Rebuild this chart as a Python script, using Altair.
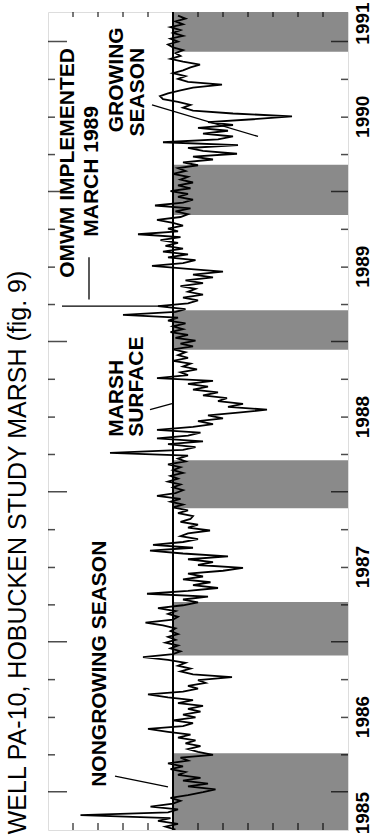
import altair as alt
import pandas as pd

# Weekly water level at well PA-10, feet relative to the marsh surface
# (positive = water above the surface). One row per quarter year.
first_reading = "1985-10-01"
level_ft = [
    -0.05, 0.15, -0.1, 0.3, 0.05, 1.85, 0.1, -0.1, 0.45, 0.0, -0.15, 0.05, -0.3,
    -0.6, -0.85, -0.3, -0.7, -0.2, -0.55, -0.1, -0.25, 0.05, -0.2, 0.1, -0.3, -0.15,
    -0.8, -0.5, -0.3, -0.55, -0.25, -0.45, -0.1, -0.35, 0.1, 0.5, -0.2, -0.4, 0.0,
    -0.45, -0.2, -0.55, -0.3, -0.6, -0.1, -0.4, 0.1, 0.5, -0.2, -0.5, -0.3, -0.65,
    -0.5, -1.18, -0.4, -0.15, -0.35, -0.1, -0.25, 0.1, 0.6, 0.0, -0.15, 0.05, -0.1,
    0.15, -0.05, 0.1, -0.1, 0.05, -0.05, 0.2, 0.55, 0.0, -0.1, 0.1, -0.05, 0.3,
    -0.2, -0.5, -0.2, -0.7, 0.52, -0.3, -0.9, -0.4, -0.75, -0.2, -0.6, -0.3, -1.0,
    -1.4, -0.5, -0.8, -0.3, -1.1, -0.2, 0.46, -0.4, 0.4, -0.2, -0.5, -0.15, -0.3,
    -0.74, -0.3, -0.5, -0.15, -0.35, -0.4, -0.1, -0.3, 0.0, -0.2, 0.05, -0.15, 0.32,
    -0.05, -0.2, 0.0, -0.15, 0.1, -0.1, 0.05, -0.2, 0.0, -0.15, 0.1, -0.25, -0.1,
    -0.3, 1.26, -0.2, -0.45, 0.1, -0.6, 0.32, -0.3, -0.55, 0.32, -0.4, -0.8, -0.5,
    -1.0, -0.7, -1.3, -1.88, -1.1, -1.4, -0.9, -1.08, -0.6, -0.9, -0.4, -0.7, -0.3,
    -0.8, 0.32, -0.3, -0.15, -0.48, -0.2, -0.35, 0.0, -0.3, -0.1, -0.25, 0.0, -0.4,
    -0.15, -0.45, -0.05, -0.3, 0.05, -0.2, 0.0, -0.25, 0.1, -0.1, 1.0, -0.05, -0.25,
    0.3, -0.3, -0.5, -0.2, -0.6, -0.3, -0.45, -0.15, -0.6, -0.25, -0.8, -0.4, -1.0,
    -0.3, 0.42, -0.2, -0.45, 0.1, -0.3, 0.2, -0.2, 0.15, -0.1, 0.25, -0.15, 0.7,
    -0.1, 0.1, -0.2, 0.0, 0.32, -0.15, -0.3, -0.05, -0.35, 0.36, -0.2, -0.4, -0.1,
    -0.3, 0.05, -0.35, -0.1, -0.4, -0.15, -0.3, 0.0, -0.25, -0.1, -0.5, -0.2, -0.8,
    -0.4, -1.28, -0.6, -0.3, -1.3, 0.2, -0.9, -1.2, -0.6, -1.1, -0.5, -1.2, -0.7,
    -1.6, -2.38, -1.2, -0.4, -0.2, -0.35, -0.1, 0.2, 0.26, 0.1, -0.15, -0.4, -0.98,
    -0.3, -0.1, -0.25, 0.0, -0.2, -0.35, -0.54, -0.2, 0.05, -0.15, -0.05, -0.2, 0.0,
    0.1, -0.1, 0.05, -0.2, 0.0, -0.15, 0.05, -0.2, -0.05, -0.25, -0.1,
]

# Nongrowing seasons (shaded below the marsh surface)
nongrowing_start = ["1985-09-30", "1986-11-29", "1987-11-22", "1988-12-12", "1989-11-05", "1990-12-07"]
nongrowing_end = ["1986-04-05", "1987-04-08", "1988-03-18", "1989-03-18", "1990-03-07", "1991-03-14"]

# Period shown and year labels along the time axis
period = ["1985-09-30", "1991-03-14"]
year_label_text = ["1985", "1986", "1987", "1988", "1989", "1990", "1991"]
year_label_date = ["1985-11-10", "1986-07-02", "1987-07-02", "1988-07-01",
                   "1989-07-02", "1990-07-02", "1991-02-14"]
level_ticks = [-3.0, -2.5, -2.0, -1.5, -1.0, -0.5, 0.5, 1.0, 1.5, 2.0]
level_range = [-3.5, 2.5]

# Text notes on the chart
note_text = ["NONGROWING SEASON", "MARSH", "SURFACE", "OMWM IMPLEMENTED",
             "MARCH  1989", "GROWING", "SEASON"]
note_date = ["1986-01-13", "1988-05-14", "1988-05-14", "1989-06-05",
             "1989-09-13", "1990-09-30", "1990-08-31"]
note_level = [1.46, 1.12, 0.72, 2.10, 1.62, 1.12, 0.70]
note_align = ["left", "left", "left", "left", "left", "center", "center"]

# Pointer lines for the notes
pointer_date = ["1986-02-08", "1988-07-19", "1989-03-28", "1989-04-13", "1990-07-31"]
pointer_date2 = ["1986-01-13", "1988-08-03", "1989-03-28", "1989-07-25", "1990-05-15"]
pointer_level = [1.16, 0.46, 2.22, 1.68, 0.42]
pointer_level2 = [0.10, 0.02, 0.10, 1.68, -1.70]

FONT = "Liberation Sans"

readings = pd.DataFrame({
    "date": pd.date_range(first_reading, periods=len(level_ft), freq="7D"),
    "level": level_ft,
})
readings["order"] = range(len(readings))

seasons = pd.DataFrame({"start": pd.to_datetime(nongrowing_start),
                        "end": pd.to_datetime(nongrowing_end)})

quarters = pd.DataFrame({"date": pd.date_range("1986-01-01", "1991-01-01", freq="QS")})
quarters["major"] = quarters["date"].dt.month == 1
minor_q = quarters[~quarters["major"]]
major_q = quarters[quarters["major"]]

edge_bottom = pd.DataFrame({"level": level_ticks, "date": pd.to_datetime(period[0])})
edge_top = pd.DataFrame({"level": level_ticks, "date": pd.to_datetime(period[1])})

years = pd.DataFrame({"text": year_label_text, "date": pd.to_datetime(year_label_date)})

notes = pd.DataFrame({"text": note_text, "date": pd.to_datetime(note_date),
                      "level": note_level, "align": note_align})
pointers = pd.DataFrame({"date": pd.to_datetime(pointer_date), "date2": pd.to_datetime(pointer_date2),
                         "level": pointer_level, "level2": pointer_level2})


def dt(s):
    t = pd.Timestamp(s)
    return alt.DateTime(year=t.year, month=t.month, date=t.day)


y_scale = alt.Scale(domain=[dt(period[0]), dt(period[1])], nice=False)
x_scale = alt.Scale(domain=level_range, reverse=True, nice=False, zero=False)

X = lambda f: alt.X(f, scale=x_scale, axis=None)
Y = lambda f: alt.Y(f, scale=y_scale, axis=None)

bands = alt.Chart(seasons).mark_rect(color="#8a8a8a", clip=True).encode(
    y=Y("start:T"), y2="end:T",
    x=alt.datum(0.0, scale=x_scale, axis=None), x2=alt.datum(level_range[0]),
)

surface = alt.Chart(seasons).mark_rule(color="black", strokeWidth=2).encode(
    x=alt.datum(0.0, scale=x_scale, axis=None),
)

trace = alt.Chart(readings).mark_line(color="black", strokeWidth=1.8, clip=True).encode(
    y=Y("date:T"),
    x=X("level:Q"),
    order="order:Q",
)


def side_ticks(df, edge, length):
    return alt.Chart(df).mark_tick(orient="horizontal", size=length, thickness=1.5,
                                   color="black", clip=True).encode(
        y=Y("date:T"), x=alt.datum(edge, scale=x_scale, axis=None))


def end_ticks(df, length):
    return alt.Chart(df).mark_tick(orient="vertical", size=length, thickness=1.5,
                                   color="black", clip=True).encode(
        y=Y("date:T"), x=X("level:Q"))


ticks = [
    side_ticks(minor_q, level_range[1], 14),
    side_ticks(major_q, level_range[1], 38),
    side_ticks(minor_q, level_range[0], 14),
    side_ticks(major_q, level_range[0], 34),
    end_ticks(edge_bottom, 14),
    end_ticks(edge_top, 10),
]

# Year labels set just outside the right edge of the frame
year_text = alt.Chart(years).mark_text(
    angle=270, align="center", baseline="top", dy=6, fontSize=19, fontWeight="bold",
    font=FONT, color="black",
).encode(y=Y("date:T"), x=alt.datum(level_range[0], scale=x_scale, axis=None), text="text:N")

note_layers = []
for align in ["left", "center"]:
    note_layers.append(
        alt.Chart(notes[notes["align"] == align]).mark_text(
            angle=270, align=align, baseline="middle", fontSize=21, fontWeight="bold",
            font=FONT, color="black",
        ).encode(y=Y("date:T"), x=X("level:Q"), text="text:N")
    )

leaders = alt.Chart(pointers).mark_rule(color="black", strokeWidth=1.3).encode(
    y=Y("date:T"), y2="date2:T", x=X("level:Q"), x2="level2:Q",
)

chart = alt.layer(bands, surface, trace, *ticks, leaders, *note_layers, year_text).properties(
    width=300,
    height=818,
    title=alt.TitleParams(
        "WELL PA-10, HOBUCKEN STUDY MARSH (fig. 9)",
        orient="left", anchor="start", fontSize=25, font=FONT,
        fontWeight="normal", color="black", offset=-3, baseline="alphabetic",
    ),
    autosize=alt.AutoSizeParams(type="none"),
    padding={"left": 48, "top": 12, "right": 28, "bottom": 5},
).configure_view(stroke="black", strokeWidth=2).configure(background="white")

chart.save("out.html", embed_options={"renderer": "svg", "actions": False})
